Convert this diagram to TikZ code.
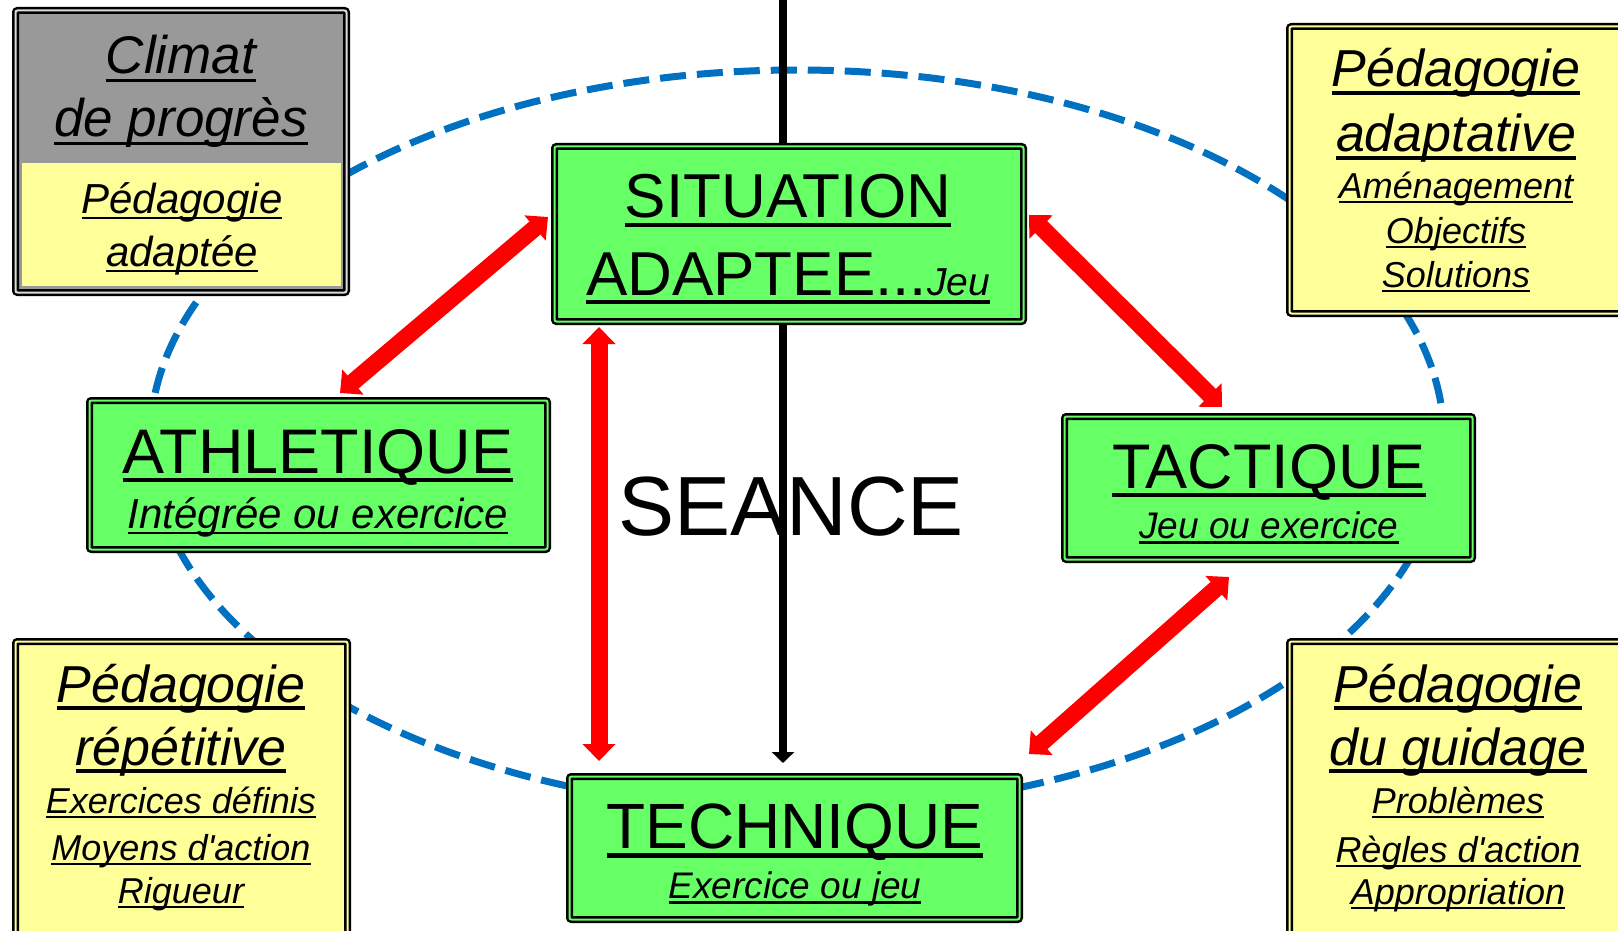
\documentclass[tikz,border=0pt]{standalone}
\usepackage{fontspec}
\setmainfont{Liberation Sans}
\usetikzlibrary{arrows.meta}
\definecolor{boxgreen}{HTML}{66FF66}
\definecolor{boxyellow}{HTML}{FFFF99}
\definecolor{boxgray}{HTML}{999999}
\definecolor{boxgap}{HTML}{DDDDDD}
\definecolor{ellblue}{HTML}{0070C0}
\newcommand\ulx[1]{\leavevmode\setbox0=\hbox{#1}\rlap{\rule[-0.15em]{\wd0}{0.065em}}\box0}
\newcommand\fs[1]{\fontsize{#1}{#1}\selectfont}
\begin{document}
\begin{tikzpicture}[x=1pt,y=-1pt,
  dbox/.style={draw=black, line width=2.5pt, double=#1, double distance=2pt, fill=#1, rounded corners=2pt, inner sep=0pt, outer sep=0pt},
  txt/.style={anchor=base, inner sep=0pt, outer sep=0pt},
  redarr/.style={draw=red, line width=17pt, {Triangle[width=32pt,length=17pt]}-{Triangle[width=32pt,length=17pt]}},
  blackarr/.style={draw=black, line width=8pt, -{Triangle[width=22pt,length=11pt]}},
  ellstyle/.style={draw=ellblue, line width=7pt, dash pattern=on 26pt off 11pt}]
\useasboundingbox (0,0) rectangle (1618,931);
\clip (0,0) rectangle (1618,931);
\fill[white] (0,0) rectangle (1618,931);
% ellipse
\draw[ellstyle] (797,440) ellipse [x radius=647pt, y radius=370pt];
% technique box
\node[dbox=boxgreen, minimum width=450pt, minimum height=143pt] (tech) at (794.5,848) {};
% central text and black line
\node[txt] (seance) at (791,535) {\fs{84}SEANCE};
\coordinate (top) at (783,-5);
\draw[blackarr] (top) -- ([xshift=-11.5pt,yshift=13.5pt]tech.north);
% other boxes
\node[dbox=boxgreen, minimum width=469pt, minimum height=175pt] (sit) at (789,234) {};
\node[dbox=boxgreen, minimum width=458pt, minimum height=149pt] (ath) at (318.5,475) {};
\node[dbox=boxgreen, minimum width=408pt, minimum height=143pt] (tac) at (1268.5,488) {};
\node[dbox=boxgap, fill=boxgray, minimum width=331pt, minimum height=282pt] (clim) at (181,151.5) {};
\fill[boxyellow] (22,163) rectangle (341,286);
\node[dbox=boxyellow, minimum width=333pt, minimum height=287pt] (adapt) at (1456,170) {};
\node[dbox=boxyellow, minimum width=332pt, minimum height=300pt] (rep) at (181.5,791.5) {};
\node[dbox=boxyellow, minimum width=333pt, minimum height=300pt] (guid) at (1456,791.5) {};
% texts
\node[txt] (sit1t) at (788,218) {\fs{62}\ulx{SITUATION}};
\node[txt] (sit2t) at (788,295) {\fs{62}\ulx{ADAPTEE...{\fs{39}\itshape Jeu}}};
\node[txt] (ath1t) at (318,473) {\fs{63}\ulx{ATHLETIQUE}};
\node[txt] (ath2t) at (318,528) {\fs{42}\itshape\ulx{Intégrée ou exercice}};
\node[txt] (tac1t) at (1269,488) {\fs{63}\ulx{TACTIQUE}};
\node[txt] (tac2t) at (1269,538) {\fs{37}\itshape\ulx{Jeu ou exercice}};
\node[txt] (tech1t) at (795,848) {\fs{64}\ulx{TECHNIQUE}};
\node[txt] (tech2t) at (795,898) {\fs{37}\itshape\ulx{Exercice ou jeu}};
\node[txt] (cl1) at (181,74) {\fs{53}\itshape\ulx{Climat}};
\node[txt] (cl2) at (181,137) {\fs{53}\itshape\ulx{de progrès}};
\node[txt] (cl3) at (182,213) {\fs{42}\itshape\ulx{Pédagogie}};
\node[txt] (cl4) at (182,266) {\fs{42}\itshape\ulx{adaptée}};
\node[txt] (ad1) at (1456,87) {\fs{52}\itshape\ulx{Pédagogie}};
\node[txt] (ad2) at (1456,152) {\fs{52}\itshape\ulx{adaptative}};
\node[txt] (ad3) at (1456,198) {\fs{36}\itshape\ulx{Aménagement}};
\node[txt] (ad4) at (1456,243) {\fs{36}\itshape\ulx{Objectifs}};
\node[txt] (ad5) at (1456,287) {\fs{36}\itshape\ulx{Solutions}};
\node[txt] (re1) at (181,702) {\fs{52}\itshape\ulx{Pédagogie}};
\node[txt] (re2) at (181,765) {\fs{52}\itshape\ulx{répétitive}};
\node[txt] (re3) at (181,813) {\fs{36}\itshape\ulx{Exercices définis}};
\node[txt] (re4) at (181,860) {\fs{36}\itshape\ulx{Moyens d\textquotesingle action}};
\node[txt] (re5) at (181,903) {\fs{36}\itshape\ulx{Rigueur}};
\node[txt] (gu1) at (1458,702) {\fs{52}\itshape\ulx{Pédagogie}};
\node[txt] (gu2) at (1458,765) {\fs{52}\itshape\ulx{du guidage}};
\node[txt] (gu3) at (1458,813) {\fs{36}\itshape\ulx{Problèmes}};
\node[txt] (gu4) at (1458,862) {\fs{36}\itshape\ulx{Règles d\textquotesingle action}};
\node[txt] (gu5) at (1458,904) {\fs{36}\itshape\ulx{Appropriation}};
% red arrows
\draw[redarr] ([xshift=250.5pt,yshift=7.5pt]ath.north west) -- ([xshift=-6.5pt,yshift=-70.5pt]sit.north west);
\draw[redarr] ([xshift=5.5pt,yshift=-68.5pt]sit.north east) -- ([xshift=157.5pt,yshift=9.5pt]tac.north west);
\draw[redarr] ([xshift=164.5pt,yshift=-17.5pt]tac.south west) -- ([xshift=9.5pt,yshift=22.5pt]tech.north east);
\draw[redarr] ([xshift=44.5pt,yshift=-5.5pt]sit.south west) -- ([xshift=29.5pt,yshift=15.5pt]tech.north west);
\end{tikzpicture}
\end{document}
